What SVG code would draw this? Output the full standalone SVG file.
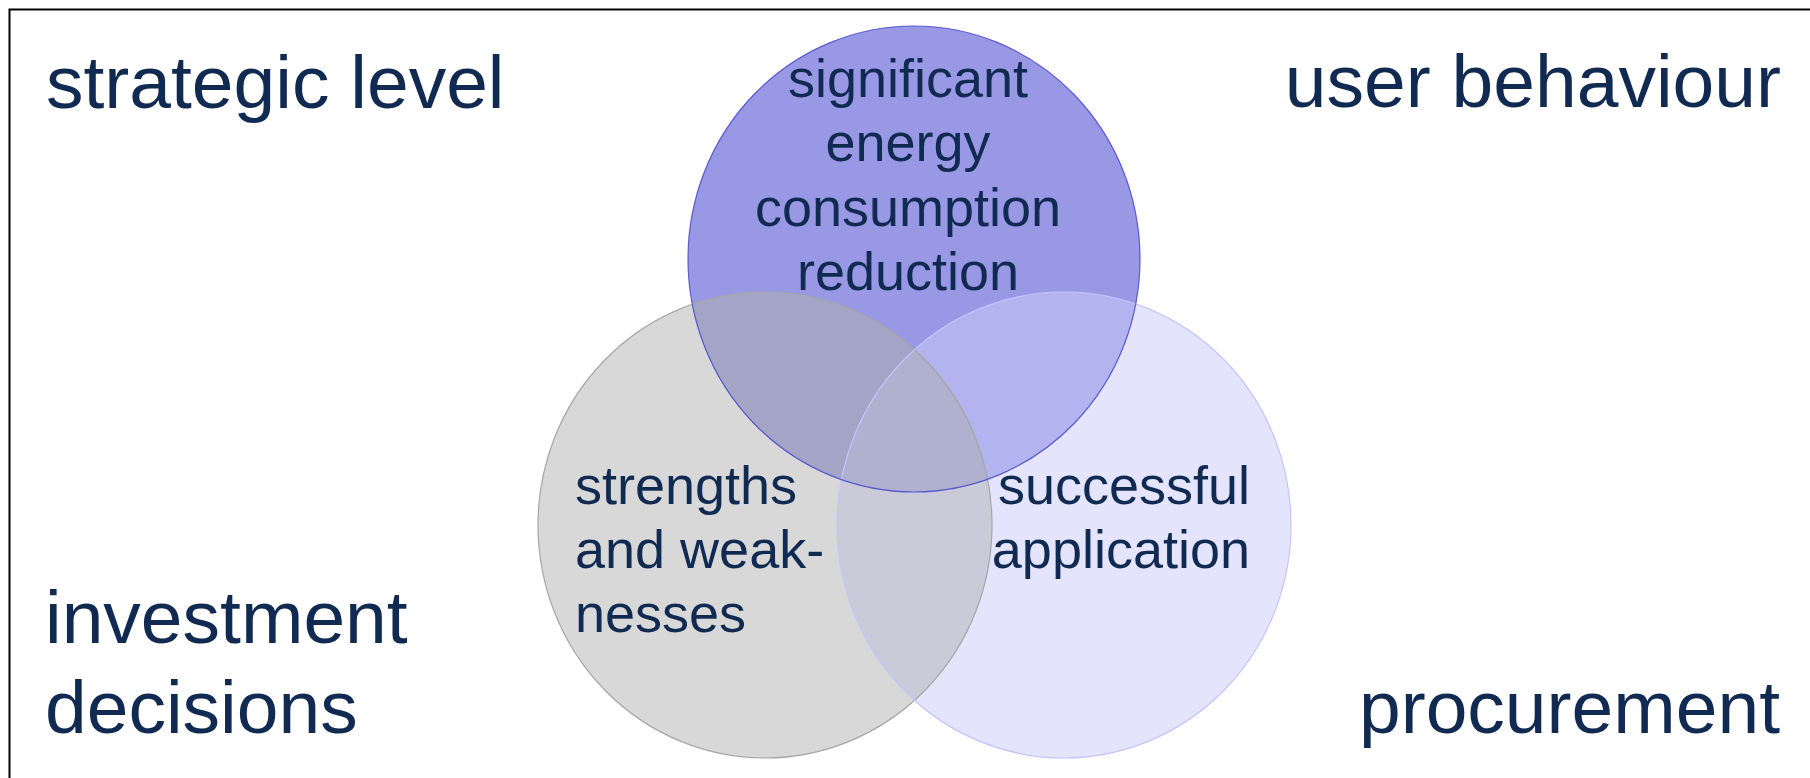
<svg xmlns="http://www.w3.org/2000/svg" width="1810" height="778" viewBox="0 0 1810 778">
  <style>
    .lbl { font-family: "Liberation Sans", Arial, sans-serif; fill: #112a52; }
    .big { font-size: 75px; }
    .mid { font-size: 54px; }
  </style>
  <defs>
    <ellipse id="eTop" cx="914" cy="259" rx="226" ry="233"/>
    <ellipse id="eLeft" cx="765" cy="525" rx="227" ry="233"/>
    <ellipse id="eRight" cx="1064" cy="525" rx="227" ry="233"/>
    <clipPath id="cLeft"><use href="#eLeft"/></clipPath>
    <clipPath id="cRight"><use href="#eRight"/></clipPath>
  </defs>

  <rect width="1810" height="778" fill="#ffffff"/>
  <!-- frame (open on the right and bottom) -->
  <rect x="9.5" y="9.5" width="1830" height="800" fill="none" stroke="#000000" stroke-width="2"/>

  <!-- base fills of the three sets -->
  <g id="fills">
    <use href="#eLeft" fill="#d8d8d8"/>
    <use href="#eRight" fill="#e4e4fc"/>
    <use href="#eTop" fill="#9898e4"/>
  </g>

  <!-- overlap regions -->
  <g id="overlaps">
    <g clip-path="url(#cLeft)"><use href="#eRight" fill="#cacad9"/></g>
    <g clip-path="url(#cLeft)"><use href="#eTop" fill="#a4a4c6"/></g>
    <g clip-path="url(#cRight)"><use href="#eTop" fill="#b3b3f0"/></g>
    <g clip-path="url(#cLeft)"><g clip-path="url(#cRight)"><use href="#eTop" fill="#b0b0cf"/></g></g>
  </g>

  <!-- outlines -->
  <g id="outlines" fill="none">
    <use href="#eLeft" stroke="#a6a6a6" stroke-width="1.2"/>
    <use href="#eRight" stroke="#c4c4ff" stroke-width="1.2"/>
    <use href="#eTop" stroke="#4848cc" stroke-width="1.2" stroke-opacity="0.85"/>
  </g>

  <g id="node-energy" class="lbl mid" text-anchor="middle">
    <text x="908" y="97">significant</text>
    <text x="908" y="161">energy</text>
    <text x="908" y="226">consumption</text>
    <text x="908" y="290">reduction</text>
  </g>

  <g id="node-strengths" class="lbl mid">
    <text x="575" y="504">strengths</text>
    <text x="575" y="568">and weak-</text>
    <text x="575" y="632">nesses</text>
  </g>

  <g id="node-application" class="lbl mid" text-anchor="end">
    <text x="1250" y="504">successful</text>
    <text x="1250" y="568">application</text>
  </g>

  <g id="node-strategic">
    <text class="lbl big" x="46" y="108">strategic level</text>
  </g>

  <g id="node-user">
    <text class="lbl big" x="1781" y="107" text-anchor="end">user behaviour</text>
  </g>

  <g id="node-investment" class="lbl big">
    <text x="45" y="643">investment</text>
    <text x="45" y="733">decisions</text>
  </g>

  <g id="node-procurement">
    <text class="lbl big" x="1780" y="733" text-anchor="end">procurement</text>
  </g>
</svg>
